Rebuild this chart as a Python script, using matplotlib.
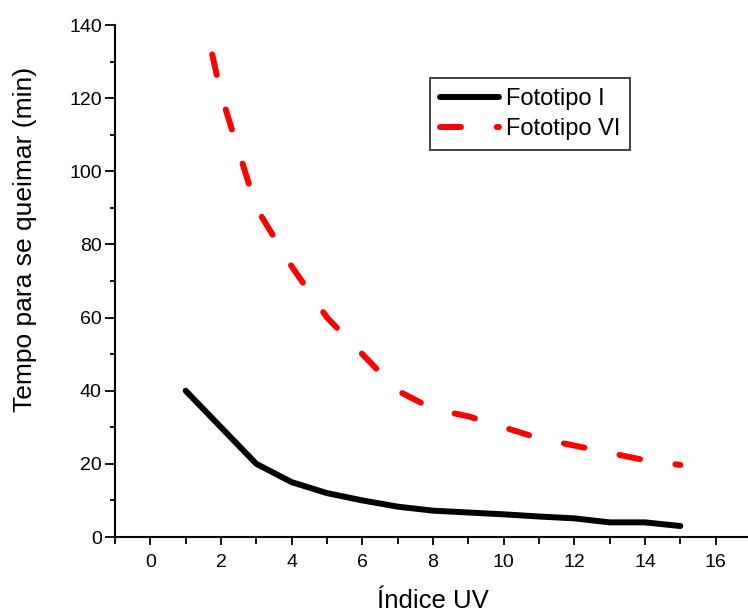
import numpy as np
import matplotlib
matplotlib.use("Agg")
import matplotlib.pyplot as plt
from matplotlib.ticker import MultipleLocator

plt.rcParams["font.family"] = ["Liberation Sans", "DejaVu Sans"]

# dados
uv_index = [1, 2, 3, 4, 5, 6, 7, 8, 9, 10, 11, 12, 13, 14, 15]
fototipo_1 = [40, 30, 20, 15, 12, 10, 8.3, 7.2, 6.7, 6.2, 5.6, 5.1, 4.0, 4.0, 3.0]
fototipo_6 = [165, 121, 90, 74, 60, 50, 40, 35, 33, 30, 27, 25, 23, 21, 19.7]

x_ticks = [0, 2, 4, 6, 8, 10, 12, 14, 16]
y_ticks = [0, 20, 40, 60, 80, 100, 120, 140]

fig = plt.figure(figsize=(7.48, 6.12), dpi=100)
ax = fig.add_axes([115 / 748, 1 - 537 / 612, (751 - 115) / 748, (537 - 25) / 612])

ax.plot(uv_index, fototipo_1, color="black", lw=4.3, solid_capstyle="round",
        solid_joinstyle="round", label="Fototipo I")
ax.plot(uv_index, fototipo_6, color="#ff0000", lw=4.3, dashes=(3.5, 6.0),
        dash_capstyle="round", dash_joinstyle="round", label="Fototipo VI")

ax.set_xlim(-1, 17)
ax.set_ylim(0, 140)
ax.set_xticks(x_ticks)
ax.set_yticks(y_ticks)
ax.xaxis.set_minor_locator(MultipleLocator(1))
ax.yaxis.set_minor_locator(MultipleLocator(10))

for side in ["top", "right"]:
    ax.spines[side].set_visible(False)
for side in ["left", "bottom"]:
    ax.spines[side].set_linewidth(1.5)

ax.tick_params(axis="y", which="major", direction="out", length=7, width=1.3,
               labelsize=14, pad=2.5)
ax.tick_params(axis="y", which="minor", direction="out", length=3.5, width=1.3)
ax.tick_params(axis="x", which="major", direction="out", length=6, width=1.3,
               labelsize=14, pad=6)
ax.tick_params(axis="x", which="minor", direction="out", length=5, width=1.3)

ax.set_xlabel("Índice UV", fontsize=18.5, labelpad=13.5)
ax.set_ylabel("Tempo para se queimar (min)", fontsize=19)
ax.yaxis.set_label_coords(-0.1226, 0.582)

leg = ax.legend(loc="upper left", bbox_to_anchor=(430 / 748, 1 - 78 / 612),
                bbox_transform=fig.transFigure, fontsize=17, frameon=True,
                fancybox=False, edgecolor="black", borderaxespad=0,
                handlelength=2.5, handletextpad=0.3, labelspacing=0.35,
                borderpad=0.42)
leg.get_frame().set_linewidth(1.3)

fig.savefig("out.png", dpi=100)
